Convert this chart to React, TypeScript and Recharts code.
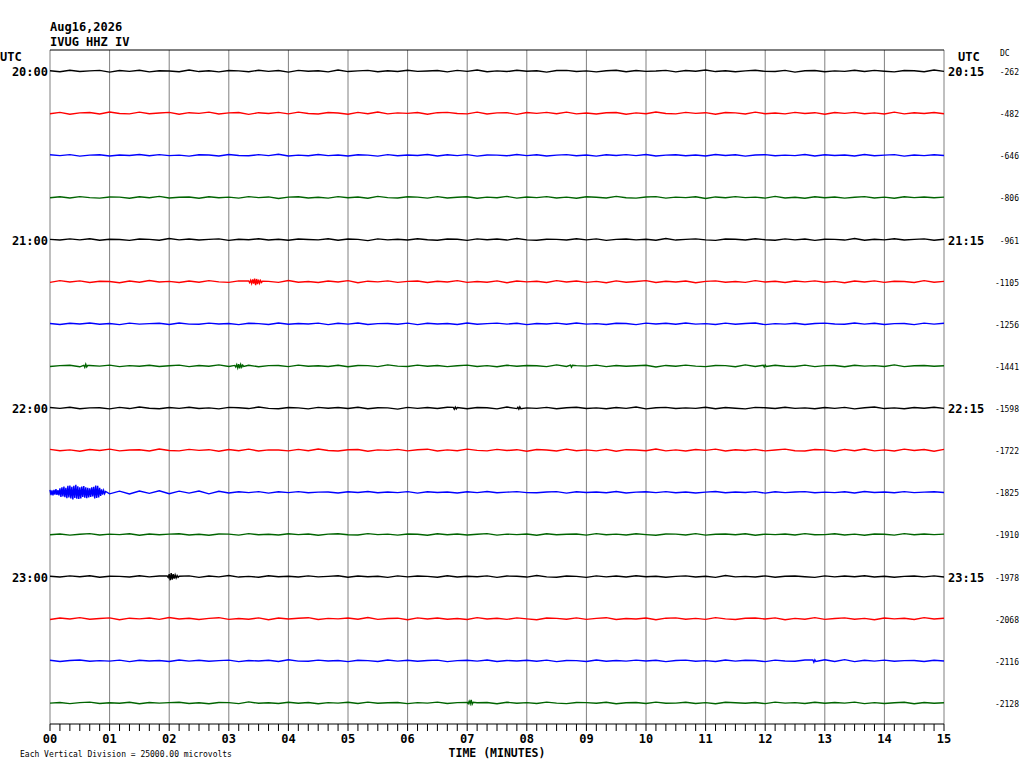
import { LineChart, Line, XAxis, YAxis, ReferenceLine, Label } from 'recharts';

// one trace = 15 minutes, traces spaced one vertical division (25000 microvolts = 25 mV)
const ROW_MV = 25;
const STEP_S = 10;

const hourLabels = ['20:00', '21:00', '22:00', '23:00'];
const quarterLabels = ['20:15', '21:15', '22:15', '23:15'];
const dcLabels = [
  '-262', '-482', '-646', '-806', '-961', '-1105', '-1256', '-1441',
  '-1598', '-1722', '-1825', '-1910', '-1978', '-2068', '-2116', '-2128',
];
const minuteLabels = ['00', '01', '02', '03', '04', '05', '06', '07', '08', '09', '10', '11', '12', '13', '14', '15'];
const traceColors = ['#000000', '#ff0000', '#0000ff', '#006400'];

// background noise, 0.1 mV units, one sample every 10 s (91 per trace)
const row00 = [
  2, -4, 5, -3, 1, 4, -6, 3, -2, 5, -5, 2, 0,
  -4, 6, -3, 2, -5, 3, 1, -4, 5, -2, 3, -6, 4,
  -1, 2, -5, 6, -3, 1, 4, -4, 2, -3, 5, -2, 0,
  3, -5, 4, -2, 6, -4, 1, -3, 5, -1, 2, -6, 3,
  4, -3, 1, -5, 2, 5, -4, 3, -2, 0, 4, -5, 3,
  -1, 6, -3, 2, -4, 1, 5, -2, -3, 4, -6, 2, 3,
  -4, 1, -2, 5, -3, 4, -1, -5, 3, 2, -4, 6, -2,
];
const row01 = [
  -3, 5, -6, 2, 4, -5, 7, -2, -4, 6, -3, 1, 5,
  -6, 3, -1, 6, -5, 2, 4, -7, 3, -2, 5, -4, 6,
  -2, -5, 4, 1, -6, 5, -3, 7, -4, 2, -1, 4, -6,
  3, 5, -2, -4, 6, -5, 2, 3, -7, 4, -1, 5, -3,
  6, -4, 1, -5, 3, 4, -6, 2, -3, 7, -2, -4, 5,
  -1, 3, -6, 4, 2, -5, 6, -3, 1, -4, 5, -2, 3,
  -6, 4, -1, 5, -3, 2, -5, 6, -4, 3, -2, 4, -3,
];
const row02 = [
  3, -2, 4, -5, 1, 3, -4, 2, -1, 5, -3, 4, -2,
  1, -5, 3, 2, -4, 5, -1, -3, 4, -2, 6, -4, 1,
  -3, 5, -2, 2, -4, 3, 1, -5, 4, -3, 2, -1, 5,
  -4, 3, -2, 4, -5, 2, 1, -3, 5, -2, 3, -4, 1,
  4, -3, 2, -5, 3, -1, 4, -2, 5, -4, 1, 3, -3,
  2, -4, 5, -1, 3, -5, 2, 4, -3, 1, -2, 5, -4,
  3, -1, 2, -4, 5, -3, 1, 4, -5, 2, -2, 3, -1,
];
const row03 = [
  -2, 4, -3, 5, -1, -4, 3, 2, -5, 4, -2, 6, -3,
  1, 3, -5, 4, -2, 2, -4, 5, -1, 3, -6, 2, 4,
  -3, 1, -4, 5, -2, 3, -5, 6, -1, -3, 4, 2, -4,
  5, -3, 1, 4, -5, 2, -2, 6, -4, 3, -1, 5, -3,
  2, -5, 4, 1, -3, 6, -2, -4, 3, 5, -4, 2, -1,
  4, -6, 3, -2, 5, -1, 2, -4, 6, -3, 1, -5, 4,
  -2, 3, -4, 1, 5, -3, 2, -5, 4, -1, 3, -2, 2,
];
const row04 = [
  1, -3, 4, -2, 5, -4, 2, 0, -5, 3, 1, -4, 6,
  -2, 3, -3, 1, 4, -5, 2, -1, 5, -3, 2, -4, 3,
  0, -2, 5, -4, 3, 1, -6, 4, -2, 2, -3, 5, -1,
  -4, 3, 2, -5, 4, -1, 3, -3, 6, -2, -4, 2, 1,
  -3, 5, -2, 4, -5, 1, 3, -2, 2, -4, 6, -3, 1,
  4, -2, -5, 3, 2, -3, 5, -1, -4, 4, -2, 3, -5,
  2, 1, -3, 6, -4, 2, -2, 5, -3, 1, 4, -4, 2,
];
const row05 = [
  -4, 6, -2, 5, -5, 3, 1, -6, 4, -3, 7, -2, 2,
  -5, 4, -3, 6, -1, -4, 5, -6, 3, 2, -4, 7, -3,
  1, -5, 4, -2, 6, -6, 3, -1, 5, -4, 2, 4, -5,
  3, -2, 6, -4, 1, -3, 5, -6, 4, -1, 3, -5, 6,
  -2, 4, -4, 2, -6, 5, -3, 1, 6, -5, 3, -2, 4,
  -6, 2, 5, -3, 1, -4, 6, -2, 3, -5, 4, -1, 5,
  -3, 2, -6, 4, -2, 5, -4, 3, 1, -5, 6, -3, 2,
];
const row06 = [
  2, -4, 3, -1, 5, -3, 2, -5, 4, -2, 1, 3, -4,
  5, -2, -3, 4, -1, 2, -5, 3, 1, -4, 5, -3, 2,
  -1, 4, -5, 3, -2, 5, -4, 1, 2, -3, 4, -5, 3,
  -1, 2, -4, 5, -3, 1, 4, -2, 3, -5, 2, -1, 4,
  -3, 5, -2, 1, -4, 3, 2, -5, 4, -1, 3, -3, 5,
  -2, 1, -4, 4, -3, 2, 5, -5, 1, -2, 3, -4, 2,
  4, -1, -3, 5, -2, 3, -4, 1, 2, -5, 4, -2, 3,
];
const row07 = [
  -3, 2, 4, -5, 3, -1, 5, -4, 2, -2, 4, -3, 1,
  5, -4, 3, -2, 6, -3, -1, 4, -5, 2, 3, -4, 5,
  -2, 1, -3, 4, -5, 3, 2, -4, 6, -1, -3, 5, -2,
  3, -4, 1, 5, -3, 2, -5, 4, -2, 3, 1, -4, 6,
  -3, 2, -1, 5, -4, 3, -2, 1, 4, -6, 3, -2, 5,
  -1, -4, 3, 2, -5, 6, -3, 1, 4, -2, -3, 5, -4,
  2, 3, -5, 4, -1, 2, -3, 6, -4, 1, 3, -2, 1,
];
const row08 = [
  3, -2, 5, -4, 1, 2, -5, 4, -3, 6, -1, -4, 3,
  -2, 5, -3, 1, -5, 4, 2, -3, 6, -2, -4, 3, 1,
  -5, 4, -1, 3, -3, 5, -4, 2, 1, -6, 4, -2, 3,
  -3, 5, -1, -4, 3, 2, -5, 6, -3, 1, -2, 4, -4,
  2, 5, -3, 1, -4, 3, -2, 6, -5, 2, 4, -3, 1,
  -2, 5, -4, 3, -1, -5, 4, 2, -3, 5, -2, 1, -4,
  3, -2, 4, -5, 2, 6, -3, 1, -4, 3, -1, 5, -2,
];
const row09 = [
  5, -3, 2, -6, 4, -2, 6, -4, 1, 3, -5, 7, -2,
  -4, 5, -1, 3, -6, 4, -3, 6, -5, 2, 1, -4, 5,
  -3, 7, -2, -5, 3, 4, -6, 2, -1, 5, -4, 3, 6,
  -5, 2, -3, 6, -1, -4, 5, -2, 3, -6, 4, 1, -5,
  6, -3, 2, -4, 5, -6, 3, 1, -3, 7, -4, 2, -5,
  4, -1, 6, -5, 3, -2, 5, -4, 1, 6, -3, -5, 4,
  2, -6, 5, -3, 7, -4, 2, -5, 6, -2, 4, -6, 5,
];
const row10 = [
  4, -5, 6, -4, 5, -3, -9, 7, -10, 8, -6, 9, -8,
  7, -5, 8, -9, 6, -4, 3, -2, 4, -5, 3, -2, 4,
  -3, 1, 2, -4, 3, -1, 5, -3, 2, -2, 4, -5, 3,
  -1, 2, -4, 3, -2, 5, -3, 1, 4, -2, -3, 2, 4,
  -5, 3, -1, 2, -3, 5, -4, 1, 3, -2, 4, -3, 2,
  -4, 1, 5, -3, 2, -1, 4, -5, 3, -2, 2, 4, -3,
  1, -2, 3, -4, 5, -1, 2, -3, 4, -2, 1, 3, -1,
];
const row11 = [
  -2, 3, -4, 1, 5, -3, 2, -1, 4, -5, 3, -2, 2,
  4, -3, 1, -5, 3, 2, -4, 5, -2, 1, -3, 4, -1,
  3, -5, 2, 4, -2, -3, 5, -1, 2, -4, 3, 1, -5,
  4, -2, 3, -3, 1, 5, -4, 2, -1, 3, -5, 4, -2,
  1, 3, -4, 5, -2, 2, -3, 4, -1, -5, 3, 2, -3,
  5, -4, 1, 3, -2, 4, -5, 2, -1, 3, -3, 5, -2,
  -1, 4, -3, 2, -5, 3, 1, -4, 5, -2, 3, -1, 2,
];
const row12 = [
  2, -3, 4, -1, 5, -4, 2, 1, -3, 5, -2, 3, -4,
  1, 4, -5, 3, -2, 6, -3, 1, -4, 5, -1, 2, -3,
  4, -2, 1, 5, -4, 3, -1, 2, -5, 4, -2, 3, 1,
  -4, 5, -3, 2, -1, 4, -5, 3, 2, -3, 6, -2, -4,
  3, 1, -5, 4, -2, 3, -3, 5, -1, 2, -4, 1, 4,
  -3, 2, -5, 6, -2, 1, -3, 4, -4, 2, 3, -1, -5,
  4, -2, 3, -1, 5, -3, 2, -4, 1, 3, -2, 4, -3,
];
const row13 = [
  -5, 4, -2, 6, -3, 1, 5, -6, 3, -1, 4, -4, 7,
  -2, 3, -5, 2, 6, -4, 1, -3, 5, -6, 4, -2, 3,
  6, -5, 2, -1, 4, -3, 7, -4, 1, 3, -6, 5, -2,
  4, -3, 1, -5, 6, -2, 3, -4, 5, -1, -6, 4, 2,
  -3, 5, -4, 2, 6, -5, 1, -2, 4, -6, 3, 5, -3,
  2, -4, 6, -1, -5, 3, 4, -2, 5, -6, 2, -3, 6,
  -4, 1, 5, -3, 2, -6, 4, -1, 3, -5, 6, -2, 3,
];
const row14 = [
  3, -4, 2, 5, -3, 1, -2, 4, -5, 3, -1, 2, -4,
  5, -2, 3, -3, 1, 4, -5, 2, -1, 3, -4, 6, -2,
  -3, 4, -1, 2, -5, 3, 1, -4, 5, -2, 3, -3, 2,
  4, -5, 1, 3, -2, 5, -4, 2, -1, 3, -3, 4, -5,
  2, 1, -4, 5, -3, 2, -2, 4, -1, 3, -5, 2, 4,
  -3, 1, -4, 5, -2, 3, 2, -5, 4, -1, -3, 5, -2,
  6, -4, 7, -5, 3, -2, 4, -3, 1, 2, -4, 3, -1,
];
const row15 = [
  -1, 3, -4, 2, 5, -3, 1, -2, 4, -5, 3, -1, 2,
  4, -3, 1, -5, 3, 2, -4, 6, -2, 1, -3, 4, -2,
  3, -5, 2, -1, 4, -3, 5, -2, 1, 3, -4, 2, -1,
  5, -3, 2, -4, 1, 3, -5, 4, -2, 2, -3, 5, -1,
  -4, 3, 2, -2, 4, -5, 1, 3, -3, 5, -2, -1, 4,
  -3, 2, -5, 4, 1, -2, 3, -4, 5, -1, 2, -3, 4,
  -2, 3, -1, 5, -4, 2, -3, 1, 4, -5, 3, -2, 1,
];
const noiseRows = [
  row00, row01, row02, row03, row04, row05, row06, row07,
  row08, row09, row10, row11, row12, row13, row14, row15,
];

// local events, 0.1 mV units, one sample per second
const burst2230 = [
  14, -16, 12, -18, 15, -13, 19, -15, 13, -18,
  24, -27, 30, -24, 34, -29, 27, -35, 38, -31,
  40, -36, 33, -42, 39, -34, 44, -38, 35, -40,
  30, -36, 34, -28, 37, -32, 29, -35, 26, -31,
  24, -28, 30, -25, 33, -37, 40, -34, 38, -30,
  27, -22, 17, -14, 11, -8, 5,
];
const event2115 = [4, -6, 8, -10, 14, -12, 18, -20, 16, -14, 12, -9, 7, -5, 3];
const event2300 = [3, -5, 14, -22, 20, -18, 15, -12, 10, -8, 6, -4, 2];
const event2345 = [3, -4, 10, -6, 18, -8, 4];
const events = [
  { row: 10, start: 0, values: burst2230 },
  { row: 5, start: 200, values: event2115 },
  { row: 12, start: 118, values: event2300 },
  { row: 15, start: 420, values: event2345 },
  { row: 7, start: 34, values: [4, -8, 10, -6, 3] },
  { row: 7, start: 186, values: [3, -6, 8, -12, 10, -14, 9, -7, 5, -3] },
  { row: 7, start: 524, values: [5, -7, 4] },
  { row: 7, start: 718, values: [4, -6, 5, -3] },
  { row: 8, start: 406, values: [4, -7, 6, -5, 3] },
  { row: 8, start: 471, values: [5, -6, 7, -4] },
  { row: 14, start: 768, values: [5, -8, 6, -4] },
];

function buildRow(r: number) {
  const base = -r * ROW_MV;
  const evs = events.filter((e) => e.row === r);
  const inEvent = (t: number) => evs.some((e) => t >= e.start && t <= e.start + e.values.length - 1);
  const pts = noiseRows[r]
    .map((v, i) => ({ t: i * STEP_S, v: base + v / 10 }))
    .filter((p) => !inEvent(p.t));
  evs.forEach((e) => e.values.forEach((v, i) => pts.push({ t: e.start + i, v: base + v / 10 })));
  return pts.sort((a, b) => a.t - b.t);
}

const rowData = noiseRows.map((_, r) => buildRow(r));
const rowTicks = noiseRows.map((_, r) => -r * ROW_MV);
const hourTicks = hourLabels.map((_, i) => -i * 4 * ROW_MV);
const xTicks: number[] = [];
for (let s = 0; s <= 900; s += 10) xTicks.push(s);
const yDomain = [-15.5 * ROW_MV, 0.5 * ROW_MV];

const mono = '"DejaVu Sans Mono", monospace';

const LeftTick = (props: any) => {
  const { x, y, payload } = props;
  const r = Math.round(-payload.value / ROW_MV);
  return (
    <text x={x - 2} y={y + 5} textAnchor="end" fontFamily={mono} fontWeight="bold" fontSize={12} fill="#000">
      {hourLabels[r / 4]}
    </text>
  );
};

const RightTick = (props: any) => {
  const { x, y, payload } = props;
  const r = Math.round(-payload.value / ROW_MV);
  return (
    <g>
      {r % 4 === 0 && (
        <text x={x + 4} y={y + 5} fontFamily={mono} fontWeight="bold" fontSize={12} fill="#000">
          {quarterLabels[r / 4]}
        </text>
      )}
      <text x={x + 75} y={y + 4} textAnchor="end" fontFamily={mono} fontSize={8} fill="#000">
        {dcLabels[r]}
      </text>
    </g>
  );
};

export default function App() {
  return (
    <div style={{ position: 'relative', width: 1024, height: 768, background: '#fff' }}>
      <style>{'body{margin:0}'}</style>
      <LineChart width={1024} height={768} margin={{ top: 50, right: 0, left: 0, bottom: 0 }}>
        <XAxis
          type="number"
          dataKey="t"
          domain={[0, 900]}
          ticks={xTicks}
          interval={0}
          tickSize={7}
          tickMargin={3}
          height={44}
          axisLine={{ stroke: '#000' }}
          tickLine={{ stroke: '#000' }}
          tickFormatter={(v: number) => (v % 60 === 0 ? minuteLabels[v / 60] : '')}
          tick={{ fontFamily: mono, fontWeight: 'bold', fontSize: 12, fill: '#000' }}
        >
          <Label
            value="TIME (MINUTES)"
            position="insideBottom"
            offset={11}
            style={{ fontFamily: mono, fontWeight: 'bold', fontSize: 11.5, fill: '#000' }}
          />
        </XAxis>
        <YAxis
          yAxisId="y"
          type="number"
          domain={yDomain}
          allowDataOverflow
          ticks={hourTicks}
          interval={0}
          width={50}
          axisLine={false}
          tickLine={false}
          tickSize={0}
          tickMargin={0}
          tick={<LeftTick />}
        />
        <YAxis
          yAxisId="r"
          orientation="right"
          type="number"
          domain={yDomain}
          allowDataOverflow
          ticks={rowTicks}
          interval={0}
          width={80}
          axisLine={false}
          tickLine={false}
          tickSize={0}
          tickMargin={0}
          tick={<RightTick />}
        />
        {minuteLabels.map((m, i) => (
          <ReferenceLine key={m} yAxisId="y" x={i * 60} stroke="#808080" strokeWidth={1} ifOverflow="visible" />
        ))}
        <ReferenceLine yAxisId="y" y={0.5 * ROW_MV} stroke="#000" strokeWidth={1} ifOverflow="visible" />
        {rowData.map((d, r) => (
          <Line
            key={r}
            yAxisId={r % 2 === 0 ? 'y' : 'r'}
            data={d}
            dataKey="v"
            type="linear"
            stroke={traceColors[r % 4]}
            strokeWidth={1.4}
            dot={false}
            activeDot={false}
            isAnimationActive={false}
          />
        ))}
      </LineChart>
      <svg
        width={1024}
        height={768}
        style={{ position: 'absolute', left: 0, top: 0, pointerEvents: 'none' }}
        fontFamily={mono}
      >
        <text x={50} y={31} fontWeight="bold" fontSize={12}>Aug16,2026</text>
        <text x={50} y={46} fontWeight="bold" fontSize={12}>IVUG HHZ IV</text>
        <text x={0} y={61} fontWeight="bold" fontSize={12}>UTC</text>
        <text x={958} y={61} fontWeight="bold" fontSize={12}>UTC</text>
        <text x={1000} y={56} fontSize={8}>DC</text>
        <text x={20} y={757} fontSize={8}>Each Vertical Division = 25000.00 microvolts</text>
      </svg>
    </div>
  );
}
